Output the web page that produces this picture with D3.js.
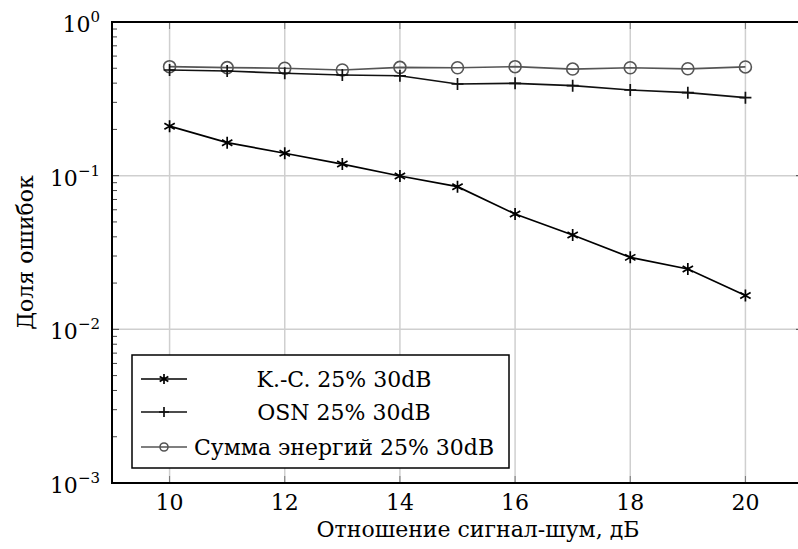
<!DOCTYPE html>
<html>
<head>
<meta charset="utf-8">
<script src="https://cdn.jsdelivr.net/npm/d3@7"></script>
<style>
  body { margin: 0; background: #fff; }
</style>
</head>
<body>
<div id="chart-area"></div>
<script>
// data
var snr = [10, 11, 12, 13, 14, 15, 16, 17, 18, 19, 20];
var kcErr = [0.21, 0.164, 0.140, 0.119, 0.0995, 0.0848, 0.0563, 0.0411, 0.0294, 0.0247, 0.0166];
var osnErr = [0.487, 0.480, 0.464, 0.452, 0.447, 0.395, 0.399, 0.385, 0.361, 0.347, 0.322];
var sumErr = [0.512, 0.505, 0.500, 0.487, 0.507, 0.504, 0.512, 0.494, 0.504, 0.496, 0.510];
var seriesNames = ["K.-C. 25% 30dB", "OSN 25% 30dB", "Сумма энергий 25% 30dB"];
var xTicks = [10, 12, 14, 16, 18, 20];
var yExps = [0, -1, -2, -3];

var margin = { left: 112, right: -5, top: 22, bottom: 66 };
var W = 798, H = 549;
var width = W - margin.left - margin.right;
var height = H - margin.top - margin.bottom;
var FONT = "DejaVu Serif";

var svg = d3.select("#chart-area")
    .append("svg")
    .attr("width", W)
    .attr("height", H)
    .style("font-family", FONT);

var g = svg.append("g")
    .attr("transform", "translate(" + margin.left + "," + margin.top + ")");

var x = d3.scaleLinear()
    .domain([9, 21])
    .range([0, width]);
var y = d3.scaleLog()
    .domain([1e-3, 1])
    .range([height, 0]);

// grid
g.selectAll(".vgrid").data(xTicks).enter()
  .append("line")
    .attr("x1", function(d){ return x(d); })
    .attr("x2", function(d){ return x(d); })
    .attr("y1", 0).attr("y2", height)
    .attr("stroke", "#cfcfcf").attr("stroke-width", 1.5);

g.selectAll(".hgrid").data(yExps).enter()
  .append("line")
    .attr("x1", 0).attr("x2", width)
    .attr("y1", function(d){ return y(Math.pow(10, d)); })
    .attr("y2", function(d){ return y(Math.pow(10, d)); })
    .attr("stroke", "#cfcfcf").attr("stroke-width", 1.5);

// minor + major ticks on y (both sides, inward)
var yMinor = [];
[-3, -2, -1].forEach(function(e){
  for (var k = 2; k <= 9; k++) yMinor.push(k * Math.pow(10, e));
});
g.selectAll(".yminor").data(yMinor).enter()
  .append("path")
    .attr("d", function(d){
      var yy = y(d);
      return "M0," + yy + "h5M" + width + "," + yy + "h-5";
    })
    .attr("stroke", "#444").attr("stroke-width", 1);
g.selectAll(".ymajor").data(yExps).enter()
  .append("path")
    .attr("d", function(d){
      var yy = y(Math.pow(10, d));
      return "M0," + yy + "h7M" + width + "," + yy + "h-7";
    })
    .attr("stroke", "#444").attr("stroke-width", 1);
g.selectAll(".xmajor").data(xTicks).enter()
  .append("path")
    .attr("d", function(d){
      var xx = x(d);
      return "M" + xx + "," + height + "v-7M" + xx + ",0v7";
    })
    .attr("stroke", "#777").attr("stroke-width", 1);

// frame
g.append("rect")
    .attr("width", width).attr("height", height)
    .attr("fill", "none").attr("stroke", "#000").attr("stroke-width", 2);

// tick labels
g.selectAll(".xlab").data(xTicks).enter()
  .append("text")
    .attr("x", function(d){ return x(d); })
    .attr("y", height + 27)
    .attr("text-anchor", "middle")
    .attr("font-size", "22px")
    .text(function(d){ return d; });

var yl = g.selectAll(".ylab").data(yExps).enter()
  .append("text")
    .attr("x", -12)
    .attr("y", function(d){ return y(Math.pow(10, d)) + 10; })
    .attr("text-anchor", "end")
    .attr("font-size", "22px");
yl.append("tspan").text("10");
yl.append("tspan")
    .attr("dy", -10)
    .attr("font-size", "15px")
    .text(function(d){ return d === 0 ? "0" : "\u2212" + (-d); });

// axis titles
g.append("text")
    .attr("x", 478 - margin.left)
    .attr("y", height + 54)
    .attr("text-anchor", "middle")
    .attr("font-size", "22px")
    .text("Отношение сигнал-шум, дБ");

g.append("text")
    .attr("transform", "translate(" + (33 - margin.left) + "," + (height / 2) + ") rotate(-90)")
    .attr("text-anchor", "middle")
    .attr("font-size", "22px")
    .text("Доля ошибок");

// markers
function starPath(r) {
  var p = "";
  [90, 30, -30].forEach(function(a){
    var dx = r * Math.cos(a * Math.PI / 180), dy = r * Math.sin(a * Math.PI / 180);
    p += "M" + (-dx) + "," + (-dy) + "L" + dx + "," + dy;
  });
  return p;
}
function plusPath(r) {
  return "M" + (-r) + ",0H" + r + "M0," + (-r) + "V" + r;
}

var series = [
  { name: seriesNames[0], values: kcErr, color: "#000", mark: "star" },
  { name: seriesNames[1], values: osnErr, color: "#111", mark: "plus" },
  { name: seriesNames[2], values: sumErr, color: "#555", mark: "circle" }
];

var line = d3.line()
    .x(function(d){ return x(d[0]); })
    .y(function(d){ return y(d[1]); });

function drawMark(sel, mark, color, r) {
  if (mark === "circle") {
    sel.append("circle").attr("r", r).attr("fill", "none")
      .attr("stroke", color).attr("stroke-width", 1.6);
  } else {
    sel.append("path")
      .attr("d", mark === "star" ? starPath(r) : plusPath(r))
      .attr("fill", "none").attr("stroke", color).attr("stroke-width", 1.7);
  }
}

series.slice().reverse().forEach(function(s){
  var pts = snr.map(function(v, i){ return [v, s.values[i]]; });
  g.append("path")
      .datum(pts)
      .attr("d", line)
      .attr("fill", "none")
      .attr("stroke", s.color)
      .attr("stroke-width", 1.7);
  g.selectAll(".m-" + s.mark).data(pts).enter()
    .append("g")
      .attr("transform", function(d){ return "translate(" + x(d[0]) + "," + y(d[1]) + ")"; })
      .each(function(){ drawMark(d3.select(this), s.mark, s.color, 6); });
});

// legend
var lg = svg.append("g").attr("transform", "translate(132,355)");
lg.append("rect")
    .attr("width", 377).attr("height", 113)
    .attr("fill", "#fff").attr("stroke", "#000").attr("stroke-width", 1.5);
var rows = [24, 57, 92];
series.forEach(function(s, i){
  var r = lg.append("g").attr("transform", "translate(0," + rows[i] + ")");
  r.append("line").attr("x1", 9).attr("x2", 55)
    .attr("stroke", s.color).attr("stroke-width", 1.6);
  var m = r.append("g").attr("transform", "translate(32,0)");
  drawMark(m, s.mark, s.color, s.mark === "circle" ? 4 : 5);
  r.append("text")
    .attr("x", 212)
    .attr("y", 8)
    .attr("text-anchor", "middle")
    .attr("font-size", "22px")
    .text(s.name);
});
</script>
</body>
</html>
